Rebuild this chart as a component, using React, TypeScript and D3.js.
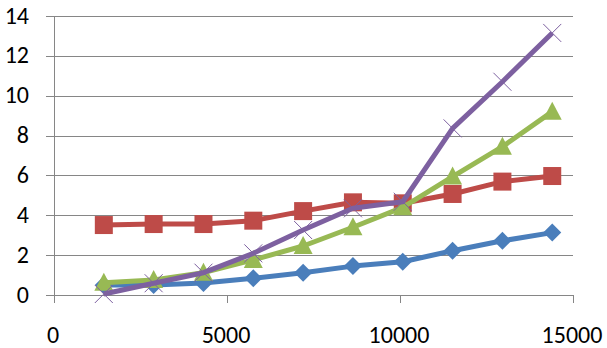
import { useEffect, useRef } from 'react';
import * as d3 from 'd3';

const xValues = [1440, 2880, 4320, 5760, 7200, 8640, 10080, 11520, 12960, 14400];
const blueSeries = [0.5, 0.5, 0.6, 0.84, 1.12, 1.45, 1.67, 2.22, 2.72, 3.13];
const redSeries = [3.51, 3.56, 3.56, 3.73, 4.21, 4.65, 4.6, 5.07, 5.69, 5.97];
const greenSeries = [0.62, 0.75, 1.12, 1.76, 2.46, 3.4, 4.4, 5.94, 7.44, 9.2];
const purpleSeries = [0.05, 0.59, 1.12, 2.09, 3.26, 4.35, 4.68, 8.36, 10.7, 13.15];
const xTicks = [0, 5000, 10000, 15000];
const yTicks = [0, 2, 4, 6, 8, 10, 12, 14];

const series = [
    { name: 'blue', values: blueSeries, color: '#4A7EBB', marker: 'diamond' },
    { name: 'red', values: redSeries, color: '#BE4B48', marker: 'square' },
    { name: 'green', values: greenSeries, color: '#98B954', marker: 'triangle' },
    { name: 'purple', values: purpleSeries, color: '#7D60A0', marker: 'x' },
];

const App = () => {
    const svgRef = useRef(null);

    useEffect(() => {
        const width = 607;
        const height = 348;
        const margin = { top: 16, right: 34, bottom: 53, left: 54 };

        const svg = d3.select(svgRef.current);
        svg.selectAll('*').remove();

        const x = d3.scaleLinear().domain([0, 15000]).range([margin.left, width - margin.right]);
        const y = d3.scaleLinear().domain([0, 14]).range([height - margin.bottom, margin.top]);

        const gridColor = '#868686';
        const font = 'Carlito, Calibri, "Open Sans", sans-serif';

        // gridlines + y ticks
        svg.append('g')
            .selectAll('line')
            .data(yTicks)
            .enter()
            .append('line')
            .attr('x1', margin.left - 8)
            .attr('x2', width - margin.right)
            .attr('y1', d => Math.round(y(d)) + 0.5)
            .attr('y2', d => Math.round(y(d)) + 0.5)
            .attr('stroke', gridColor)
            .attr('stroke-width', 1);

        // y axis line
        svg.append('line')
            .attr('x1', margin.left + 0.5)
            .attr('x2', margin.left + 0.5)
            .attr('y1', margin.top)
            .attr('y2', y(0) + 8)
            .attr('stroke', gridColor);

        // x ticks
        svg.append('g')
            .selectAll('line')
            .data(xTicks)
            .enter()
            .append('line')
            .attr('x1', d => Math.round(x(d)) + 0.5)
            .attr('x2', d => Math.round(x(d)) + 0.5)
            .attr('y1', y(0))
            .attr('y2', y(0) + 8)
            .attr('stroke', gridColor);

        svg.append('g')
            .selectAll('text')
            .data(yTicks)
            .enter()
            .append('text')
            .attr('x', 29)
            .attr('y', d => y(d) + 7.5)
            .attr('text-anchor', 'end')
            .attr('fill', '#000')
            .style('font-family', font)
            .style('font-size', '24px')
            .text(d => d);

        svg.append('g')
            .selectAll('text')
            .data(xTicks)
            .enter()
            .append('text')
            .attr('x', d => x(d) - 1)
            .attr('y', 343)
            .attr('text-anchor', 'middle')
            .attr('fill', '#000')
            .style('font-family', font)
            .style('font-size', '24px')
            .text(d => d);

        const line = d3.line<number>()
            .x((_, i) => x(xValues[i]))
            .y(d => y(d));

        series.forEach(s => {
            const g = svg.append('g');
            g.append('path')
                .datum(s.values)
                .attr('d', line)
                .attr('fill', 'none')
                .attr('stroke', s.color)
                .attr('stroke-width', 5)
                .attr('stroke-linejoin', 'round');

            const pts = g.selectAll('.pt')
                .data(s.values)
                .enter()
                .append('g')
                .attr('transform', (d, i) => `translate(${x(xValues[i])},${y(d)})`);

            if (s.marker === 'diamond') {
                pts.append('path').attr('d', 'M0,-9L9,0L0,9L-9,0Z').attr('fill', s.color);
            } else if (s.marker === 'square') {
                pts.append('rect').attr('x', -9).attr('y', -9).attr('width', 18).attr('height', 18).attr('fill', s.color);
            } else if (s.marker === 'triangle') {
                pts.append('path').attr('d', 'M0,-10L9.5,8L-9.5,8Z').attr('fill', s.color);
            } else {
                pts.append('path')
                    .attr('d', 'M-9,-9L9,9M-9,9L9,-9')
                    .attr('stroke', s.color)
                    .attr('stroke-width', 1)
                    .attr('fill', 'none');
            }
        });
    }, []);

    return (
        <svg
            ref={svgRef}
            width={607}
            height={348}
            style={{ position: 'absolute', left: 0, top: 0, background: '#fff' }}
        />
    );
};

export default App;
